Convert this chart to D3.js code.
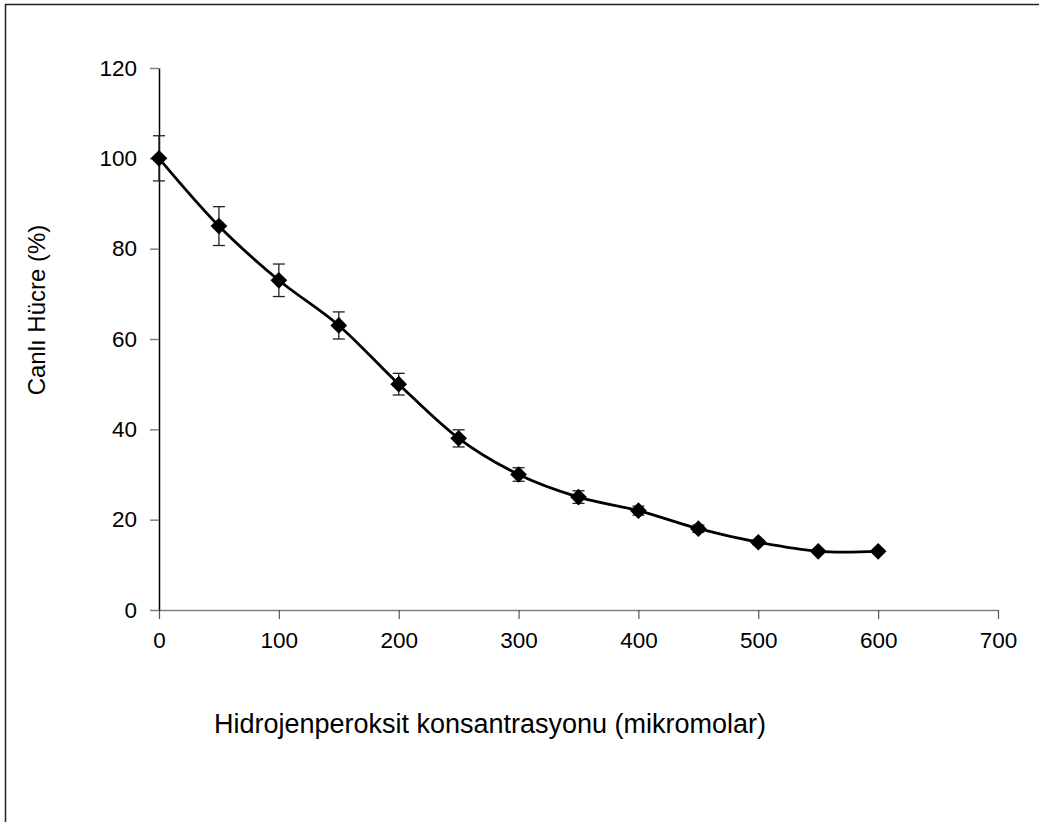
<!DOCTYPE html>
<html>
<head>
<meta charset="utf-8">
<script src="https://cdn.jsdelivr.net/npm/d3@7"></script>
<style>
  html, body { margin: 0; padding: 0; background: #fff; }
  svg { display: block; font-family: "Liberation Sans", Arial, sans-serif; }
</style>
</head>
<body>
<svg id="chart" width="1039" height="822"></svg>
<script>
// H2O2 concentration (micromolar) and viable cell percentage with error bars
const concentrations = [0, 50, 100, 150, 200, 250, 300, 350, 400, 450, 500, 550, 600];
const viability      = [100, 85, 73, 63, 50, 38, 30, 25, 22, 18, 15, 13, 13];
const errors         = [5, 4.3, 3.6, 3, 2.4, 1.9, 1.5, 1.4, 1, 0.8, 0.5, 0.4, 0.4];
const xTicks = [0, 100, 200, 300, 400, 500, 600, 700];
const yTicks = [0, 20, 40, 60, 80, 100, 120];
const xTitle = "Hidrojenperoksit konsantrasyonu (mikromolar)";
const yTitle = "Canlı Hücre (%)";

const points = concentrations.map((c, i) => ({ x: c, y: viability[i], e: errors[i] }));

const svg = d3.select("#chart");
const FONT = "Liberation Sans, Arial, sans-serif";

// outer frame (only the top and left edges fall inside the canvas)
svg.append("rect")
  .attr("x", 5.5).attr("y", 4.5)
  .attr("width", 1100).attr("height", 900)
  .attr("fill", "none").attr("stroke", "#222").attr("stroke-width", 1.5);

const x = d3.scaleLinear().domain([0, 700]).range([159, 998]);
const y = d3.scaleLinear().domain([0, 120]).range([610, 68]);

// x axis
const gx = svg.append("g")
  .attr("transform", `translate(0,${y(0)})`)
  .call(d3.axisBottom(x).tickValues(xTicks).tickSize(9).tickSizeOuter(0).tickPadding(13));
gx.select(".domain").attr("stroke", "#808080").attr("stroke-width", 1.5);
gx.selectAll(".tick line").attr("stroke", "#555").attr("stroke-width", 1.2);
gx.selectAll(".tick text").attr("font-size", 22.5).attr("fill", "#000").attr("font-family", FONT);

// y axis
const gy = svg.append("g")
  .attr("transform", `translate(${x(0)},0)`)
  .call(d3.axisLeft(y).tickValues(yTicks).tickSize(9).tickSizeOuter(0).tickPadding(13));
gy.select(".domain").attr("stroke", "#000").attr("stroke-width", 1.5);
gy.selectAll(".tick line").attr("stroke", "#808080").attr("stroke-width", 1.5);
gy.selectAll(".tick text").attr("font-size", 22.5).attr("fill", "#000").attr("font-family", FONT);

// axis titles
svg.append("text")
  .attr("x", 490).attr("y", 733)
  .attr("text-anchor", "middle")
  .attr("font-size", 27)
  .text(xTitle);

svg.append("text")
  .attr("transform", `translate(45,310) rotate(-90)`)
  .attr("text-anchor", "middle")
  .attr("font-size", 24)
  .text(yTitle);

// error bars
const eb = svg.append("g").attr("stroke", "#222").attr("stroke-width", 1.3);
points.forEach(p => {
  const cx = x(p.x);
  eb.append("line").attr("x1", cx).attr("x2", cx).attr("y1", y(p.y + p.e)).attr("y2", y(p.y - p.e));
  eb.append("line").attr("x1", cx - 6).attr("x2", cx + 6).attr("y1", y(p.y + p.e)).attr("y2", y(p.y + p.e));
  eb.append("line").attr("x1", cx - 6).attr("x2", cx + 6).attr("y1", y(p.y - p.e)).attr("y2", y(p.y - p.e));
});

// smoothed curve
const line = d3.line()
  .x(d => x(d.x)).y(d => y(d.y))
  .curve(d3.curveCardinal.tension(0));
svg.append("path")
  .datum(points)
  .attr("d", line)
  .attr("fill", "none")
  .attr("stroke", "#000")
  .attr("stroke-width", 2.8);

// diamond markers
const diamond = d3.symbol().type(d3.symbolSquare).size(140);
svg.append("g").selectAll("path")
  .data(points)
  .join("path")
  .attr("d", diamond)
  .attr("transform", d => `translate(${x(d.x)},${y(d.y)}) rotate(45)`)
  .attr("fill", "#000");
</script>
</body>
</html>
